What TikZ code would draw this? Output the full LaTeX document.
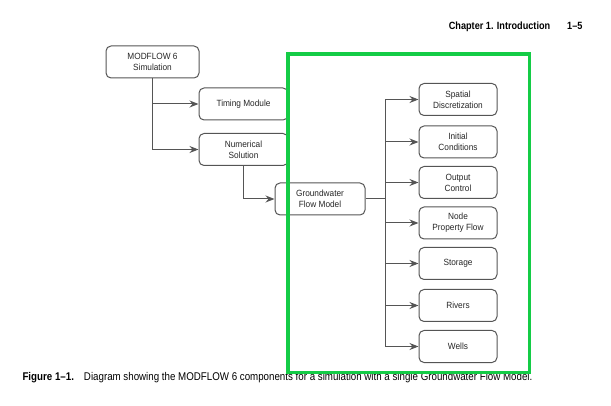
\documentclass[tikz,border=0pt]{standalone}
\usepackage{fontspec}
\usetikzlibrary{arrows.meta}
\newfontfamily\boxfont[FakeStretch=0.92]{Liberation Sans}
\newfontfamily\capfont[FakeStretch=0.87]{Liberation Sans}
\definecolor{linegray}{RGB}{85,85,85}
\definecolor{markgreen}{RGB}{20,204,70}
\tikzset{
	module/.style={draw=linegray, line width=1pt, rounded corners=5pt, align=center,
		minimum height=32pt, font=\boxfont\fontsize{9}{11}\selectfont, text=black!85},
	link/.style={draw=linegray, line width=1pt}
}
\begin{document}
\begin{tikzpicture}[x=1pt, y=-1pt, >={Stealth[length=9pt,width=7pt]}]
	\useasboundingbox (0,0) rectangle (611,406);
		\node[anchor=base east, font=\capfont\bfseries\fontsize{10.5}{12}\selectfont] (head) at (586,30) {Chapter 1. Introduction\hspace{17pt}1–5};
		\node[module, minimum width=93pt] (sim) at (152.5,62) {MODFLOW 6\\Simulation};
		\node[module, minimum width=89pt] (tdis) at (243.5,104) {Timing Module};
		\node[module, minimum width=89pt] (sln) at (243.5,149.5) {Numerical\\Solution};
		\node[module, minimum width=90pt] (gwf) at (320,199) {Groundwater\\Flow Model};
		\foreach \name/\ypos/\label in {dis/99.5/{Spatial\\Discretization}, ic/142/{Initial\\Conditions}, oc/182.5/{Output\\Control}, npf/223/{Node\\Property Flow}, sto/263.5/Storage, riv/305.5/Rivers, wel/346.5/Wells}
			\node[module, minimum width=78pt] (\name) at (458,\ypos) {\label};
		\coordinate (trunk) at (385,199);
		\draw[link,->] (sim.south) |- (sln.west);
		\draw[link,->] (sim.south |- tdis.west) -- (tdis.west);
		\draw[link,->] (sln.south) |- (gwf.west);
		\draw[link] (gwf.east) -- (trunk);
		\draw[link] (trunk |- dis.west) -- (trunk |- wel.west);
		\foreach \name in {dis,ic,oc,npf,sto,riv,wel}
			\draw[link,->] (trunk |- \name.west) -- (\name.west);
		\node[anchor=base west, font=\capfont\fontsize{11.2}{13}\selectfont] (caption) at (19,380) {\textbf{Figure 1–1.}\hspace{10pt}Diagram showing the MODFLOW 6 components for a simulation with a single Groundwater Flow Model.};
		\draw[markgreen, line width=3.5pt] (288,54) rectangle (529.5,372.5);
	\end{tikzpicture}
\end{document}
